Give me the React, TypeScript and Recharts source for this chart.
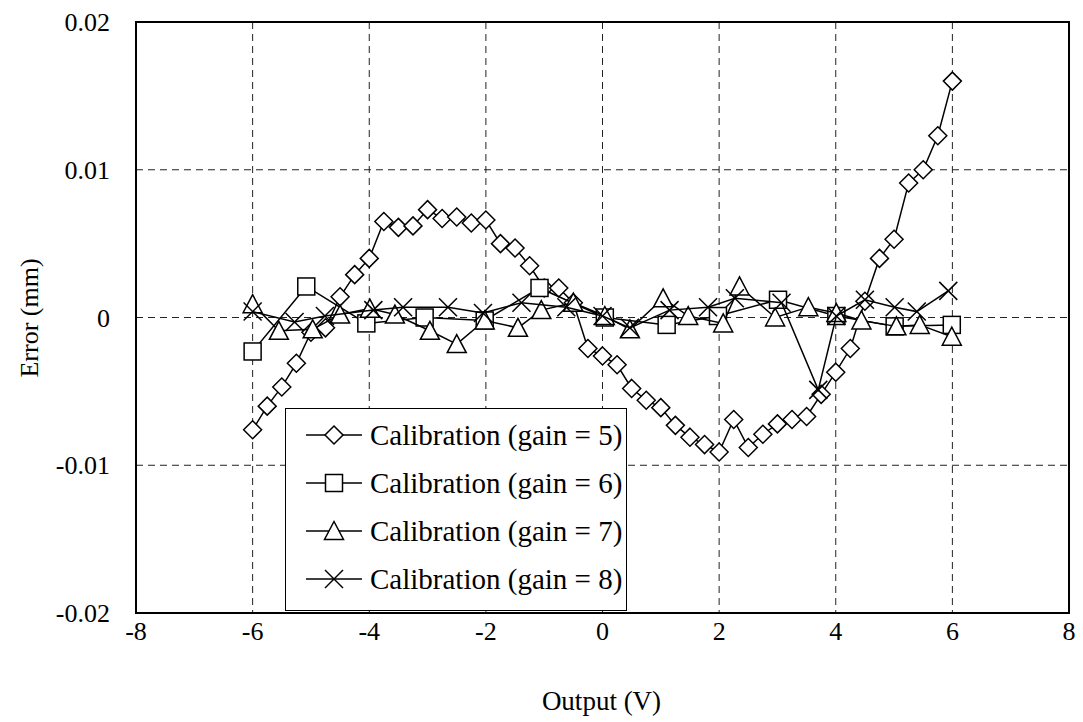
import React from 'react';
import { ScatterChart, Scatter, XAxis, YAxis, CartesianGrid, ReferenceArea, Legend } from 'recharts';

// Calibration error vs output voltage

const gain5X = [-6, -5.75, -5.5, -5.25, -5, -4.75, -4.5, -4.25, -4, -3.75, -3.5, -3.25, -3, -2.75, -2.5, -2.25, -2, -1.75, -1.5, -1.25, -1, -0.75, -0.5, -0.25, 0, 0.25, 0.5, 0.75, 1, 1.25, 1.5, 1.75, 2, 2.25, 2.5, 2.75, 3, 3.25, 3.5, 3.75, 4, 4.25, 4.5, 4.75, 5, 5.25, 5.5, 5.75, 6];
const gain5Y = [-0.0076, -0.006, -0.0047, -0.0031, -0.001, -0.0007, 0.0014, 0.0029, 0.004, 0.0065, 0.0061, 0.0062, 0.0073, 0.0067, 0.0068, 0.0064, 0.0066, 0.005, 0.0047, 0.0035, 0.002, 0.002, 0.001, -0.0021, -0.0026, -0.0032, -0.0048, -0.0056, -0.0061, -0.0073, -0.0081, -0.0086, -0.0091, -0.0069, -0.0088, -0.0079, -0.0072, -0.0069, -0.0067, -0.0052, -0.0037, -0.0021, 0.0011, 0.004, 0.0053, 0.0091, 0.01, 0.0123, 0.016];

const gain6X = [-6, -5.08, -4.05, -3.05, -2.02, -1.08, 0.04, 1.1, 1.98, 3.01, 4.01, 5.01, 5.99];
const gain6Y = [-0.0023, 0.0021, -0.0004, 0.0, -0.0002, 0.002, 0.0, -0.0005, 0.0001, 0.0012, 0.0001, -0.0006, -0.0005];

const gain7X = [-6, -5.55, -4.97, -4.5, -3.99, -3.56, -2.96, -2.5, -2.02, -1.45, -1.05, -0.5, 0.04, 0.47, 1.04, 1.47, 2.07, 2.35, 2.96, 3.53, 4.01, 4.44, 5.04, 5.44, 5.99];
const gain7Y = [0.0009, -0.0009, -0.0008, 0.0002, 0.0006, 0.0002, -0.0009, -0.0018, -0.0002, -0.0007, 0.0005, 0.001, 0.0001, -0.0008, 0.0013, 0.0001, -0.0004, 0.0021, 0.0, 0.0007, 0.0003, -0.0002, -0.0006, -0.0005, -0.0013];

const gain8X = [-6, -5.28, -4.76, -3.93, -3.42, -2.65, -2.05, -1.39, -0.62, 0, 0.47, 1.15, 1.81, 2.27, 3.07, 3.7, 4.01, 4.5, 5.01, 5.39, 5.93];
const gain8Y = [0.0004, -0.0003, 0.0001, 0.0005, 0.0007, 0.0007, 0.0003, 0.001, 0.0007, 0.0001, -0.0007, 0.0005, 0.0007, 0.0013, 0.001, -0.0049, 0.0001, 0.0012, 0.0007, 0.0004, 0.0018];

const xTicks = [-8, -6, -4, -2, 0, 2, 4, 6, 8];
const yTicks = [-0.02, -0.01, 0, 0.01, 0.02];

const seriesNames = ['Calibration (gain = 5)', 'Calibration (gain = 6)', 'Calibration (gain = 7)', 'Calibration (gain = 8)'];

const zip = (xs: number[], ys: number[]) => xs.map((x, i) => ({ x, y: ys[i] }));

const FONT = 'Liberation Serif, Times New Roman, serif';

type MarkerProps = { cx?: number; cy?: number };

function Diamond({ cx = 0, cy = 0 }: MarkerProps) {
  return <path d={`M${cx},${cy - 9}L${cx + 9},${cy}L${cx},${cy + 9}L${cx - 9},${cy}Z`} fill="#fff" stroke="#000" strokeWidth={1.5} />;
}
function Square({ cx = 0, cy = 0 }: MarkerProps) {
  return <rect x={cx - 8.5} y={cy - 8.5} width={17} height={17} fill="#fff" stroke="#000" strokeWidth={1.5} />;
}
function Triangle({ cx = 0, cy = 0 }: MarkerProps) {
  return <path d={`M${cx},${cy - 9.5}L${cx + 9.5},${cy + 8.5}L${cx - 9.5},${cy + 8.5}Z`} fill="#fff" stroke="#000" strokeWidth={1.5} />;
}
function Cross({ cx = 0, cy = 0 }: MarkerProps) {
  return (
    <g stroke="#000" strokeWidth={1.5}>
      <line x1={cx - 9} y1={cy - 9} x2={cx + 9} y2={cy + 9} />
      <line x1={cx - 9} y1={cy + 9} x2={cx + 9} y2={cy - 9} />
    </g>
  );
}

const MARKERS = [Diamond, Square, Triangle, Cross];

function LegendBox() {
  return (
    <div style={{ width: 342, height: 203, border: '1.5px solid #000', background: '#fff', boxSizing: 'border-box', position: 'relative', fontFamily: FONT }}>
      {seriesNames.map((name, i) => {
        const M = MARKERS[i];
        return (
          <div key={name} style={{ position: 'absolute', left: 0, top: 2 + i * 48, height: 48, display: 'flex', alignItems: 'center' }}>
            <svg width={84} height={30} style={{ marginLeft: 16 }}>
              <line x1={4} y1={15} x2={60} y2={15} stroke="#000" strokeWidth={1.5} />
              <M cx={32} cy={15} />
            </svg>
            <span style={{ fontSize: 29, color: '#000', whiteSpace: 'nowrap', marginLeft: -16 }}>{name}</span>
          </div>
        );
      })}
    </div>
  );
}

export default function App() {
  const series = [zip(gain5X, gain5Y), zip(gain6X, gain6Y), zip(gain7X, gain7Y), zip(gain8X, gain8Y)];
  return (
    <div style={{ position: 'absolute', left: 0, top: 0, width: 1083, height: 722, background: '#fff', fontFamily: FONT }}>
      <ScatterChart width={1083} height={722} margin={{ top: 22, right: 14, bottom: 0, left: 0 }}>
        <CartesianGrid stroke="#222" strokeDasharray="7 5" strokeWidth={1} />
        <XAxis type="number" dataKey="x" domain={[-8, 8]} ticks={xTicks} height={109} tickLine={false} axisLine={false} tickSize={0} tickMargin={9} tick={{ fontSize: 26, fill: '#000', fontFamily: FONT }} allowDataOverflow />
        <YAxis type="number" dataKey="y" domain={[-0.02, 0.02]} ticks={yTicks} width={136} tickLine={false} axisLine={false} tickSize={0} tickMargin={26} tick={{ fontSize: 26, fill: '#000', fontFamily: FONT }} allowDataOverflow />
        <ReferenceArea x1={-8} x2={8} y1={-0.02} y2={0.02} fill="none" stroke="#000" strokeWidth={2} ifOverflow="visible" />
        {series.map((data, i) => {
          const M = MARKERS[i];
          return (
            <Scatter key={seriesNames[i]} name={seriesNames[i]} data={data} line={{ stroke: '#000', strokeWidth: 1.5 }} shape={(p: MarkerProps) => <M cx={p.cx} cy={p.cy} />} isAnimationActive={false} />
          );
        })}
        <Legend layout="vertical" align="center" verticalAlign="middle" content={() => <LegendBox />} wrapperStyle={{ position: 'absolute', left: 285, top: 408, width: 342, height: 203 }} />
      </ScatterChart>
      <div style={{ position: 'absolute', left: 0, width: 1083, top: 686, textAlign: 'center', paddingLeft: 120, boxSizing: 'border-box', fontSize: 27, lineHeight: '30px', color: '#000' }}>
        Output (V)
      </div>
      <div style={{ position: 'absolute', left: 30, top: 318, transform: 'translate(-50%, -50%) rotate(-90deg)', fontSize: 26, lineHeight: '30px', whiteSpace: 'nowrap', color: '#000' }}>
        Error (mm)
      </div>
    </div>
  );
}
